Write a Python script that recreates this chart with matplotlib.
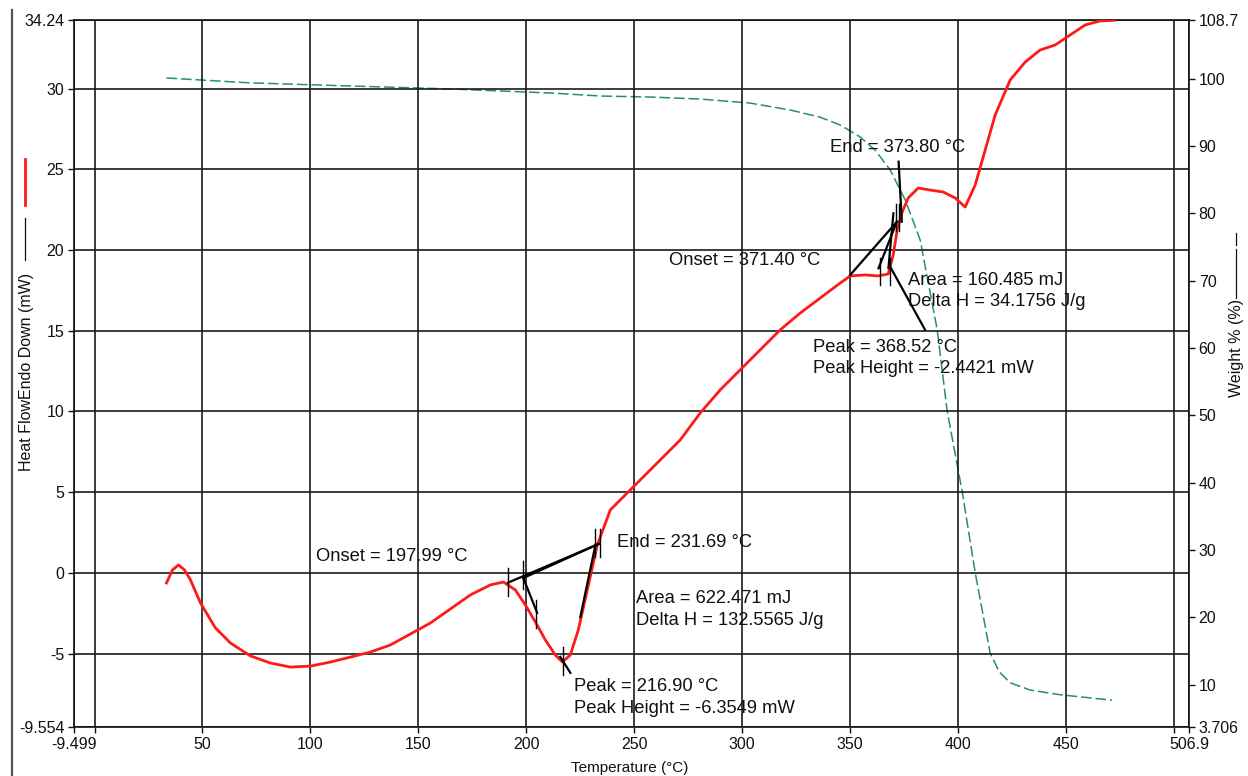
import matplotlib
matplotlib.use('Agg')
import matplotlib.pyplot as plt
from matplotlib.lines import Line2D

plt.rcParams['font.family'] = ['Liberation Sans', 'DejaVu Sans']

# heat flow curve (left axis, mW)
hf_temp = [33.33, 36.11, 38.89, 41.67, 44.44, 49.07, 56.02, 62.96, 72.22, 81.48,
           90.74, 100.0, 109.26, 118.52, 127.78, 137.04, 146.30, 155.56, 164.81, 174.07,
           183.33, 189.35, 194.91, 199.54, 204.17, 208.80, 213.43, 216.67, 220.37, 224.07,
           228.24, 232.87, 238.89, 248.15, 257.41, 271.30, 280.56, 289.81, 299.07, 308.33,
           317.59, 326.85, 336.11, 345.37, 350.0, 356.94, 362.96, 367.59, 369.91, 371.76,
           374.07, 376.85, 381.48, 387.04, 393.06, 398.61, 403.24, 407.87, 412.50, 417.13,
           424.07, 431.02, 437.96, 444.91, 451.85, 458.80, 465.74, 472.22]
hf_value = [-0.63, 0.18, 0.49, 0.18, -0.44, -1.87, -3.42, -4.35, -5.15, -5.59,
            -5.84, -5.78, -5.53, -5.22, -4.91, -4.47, -3.79, -3.11, -2.24, -1.37,
            -0.75, -0.57, -1.06, -1.99, -3.04, -4.16, -5.09, -5.53, -5.09, -3.54,
            -1.06, 1.73, 3.90, 5.14, 6.38, 8.24, 9.91, 11.34, 12.58, 13.82,
            15.06, 16.10, 17.03, 17.96, 18.40, 18.46, 18.40, 18.52, 19.70, 21.25,
            22.36, 23.23, 23.85, 23.72, 23.60, 23.23, 22.67, 24.03, 26.20, 28.37,
            30.54, 31.65, 32.40, 32.71, 33.33, 33.95, 34.20, 34.24]

# weight curve (right axis, %)
wt_temp = [33.3, 72.2, 118.5, 164.8, 211.1, 234.3, 257.4, 280.6, 303.7, 322.2,
           336.1, 345.4, 354.6, 361.6, 368.5, 375.5, 382.4, 390.3, 394.9, 401.9,
           407.9, 414.8, 419.0, 424.1, 433.3, 447.2, 461.1, 471.3]
wt_value = [100.13, 99.4, 98.94, 98.5, 97.9, 97.45, 97.3, 97.0, 96.4, 95.37,
            94.3, 93.14, 91.37, 89.4, 86.46, 82.0, 76.06, 62.7, 50.65, 38.6,
            26.6, 14.7, 11.9, 10.27, 9.2, 8.5, 8.03, 7.7]

# analysis construction lines (x0, y0, x1, y1) in data units
seg_x0 = [191.5, 198.6, 198.6, 232.0, 215.7, 350.0, 363.1, 367.7, 368.5, 372.4]
seg_y0 = [-0.61, -0.32, -0.32, 1.73, -5.21, 18.46, 18.87, 18.89, 18.97, 25.48]
seg_x1 = [233.5, 233.5, 205.0, 225.0, 220.4, 371.6, 371.6, 370.0, 384.7, 373.9]
seg_y1 = [1.79, 1.79, -2.48, -2.73, -6.20, 21.76, 21.76, 22.28, 15.05, 21.76]

# small vertical markers
mark_x = [191.5, 198.5, 204.6, 217.1, 232.0, 234.3, 363.6, 368.2, 371.3, 372.8]
mark_y = [-0.56, -0.13, -2.55, -5.47, 1.85, 1.85, 18.67, 18.67, 22.02, 22.02]
mark_half = 0.85

labels = ['End = 373.80 °C', 'Onset = 371.40 °C', 'Area = 160.485 mJ',
          'Delta H = 34.1756 J/g', 'Peak = 368.52 °C', 'Peak Height = -2.4421 mW',
          'Onset = 197.99 °C', 'End = 231.69 °C', 'Area = 622.471 mJ',
          'Delta H = 132.5565 J/g', 'Peak = 216.90 °C', 'Peak Height = -6.3549 mW']
label_x = [340.7, 266.2, 376.9, 376.9, 332.9, 332.9, 102.8, 242.1, 250.9, 250.9, 222.2, 222.2]
label_y = [26.38, 19.37, 18.14, 16.84, 13.94, 12.64, 1.03, 1.90, -1.57, -2.93, -7.02, -8.38]

x_ticks = [-9.499, 0, 50, 100, 150, 200, 250, 300, 350, 400, 450, 500, 506.9]
x_ticklabels = ['-9.499', '', '50', '100', '150', '200', '250', '300', '350', '400',
                '450', '', '506.9']
y_ticks = [-9.554, -5, 0, 5, 10, 15, 20, 25, 30, 34.24]
y_ticklabels = ['-9.554', '-5', '0', '5', '10', '15', '20', '25', '30', '34.24']
y2_ticks = [3.706, 10, 20, 30, 40, 50, 60, 70, 80, 90, 100, 108.7]
y2_ticklabels = ['3.706', '10', '20', '30', '40', '50', '60', '70', '80', '90', '100', '108.7']

W, H = 1248, 776
fig = plt.figure(figsize=(W / 100, H / 100), dpi=100)
ax = fig.add_axes([74 / W, 1 - 727 / H, (1189 - 74) / W, (727 - 20.3) / H])

ax.set_xlim(-9.499, 506.9)
ax.set_ylim(-9.554, 34.24)
ax.set_xticks(x_ticks)
ax.set_xticklabels(x_ticklabels)
ax.set_yticks(y_ticks)
ax.set_yticklabels(y_ticklabels)
ax.grid(True, color='#1a1a1a', lw=1.2)
ax.set_axisbelow(True)
ax.tick_params(length=4, width=1, labelsize=11.5, colors='#111', pad=3)
for s in ax.spines.values():
    s.set_color('#111')
    s.set_linewidth(1.2)

ax2 = ax.twinx()
ax2.set_ylim(3.706, 108.7)
ax2.set_yticks(y2_ticks)
ax2.set_yticklabels(y2_ticklabels)
ax2.tick_params(length=4, width=1, labelsize=11.5, colors='#111', pad=3)
for s in ax2.spines.values():
    s.set_visible(False)

ax2.plot(wt_temp, wt_value, color='#23955a', lw=1.1, dashes=(7, 2.5))
ax.plot(hf_temp, hf_value, color='#ff1a1a', lw=2.0, zorder=3)

ax.set_zorder(ax2.get_zorder() + 1)
ax.patch.set_visible(False)

for x0, y0, x1, y1 in zip(seg_x0, seg_y0, seg_x1, seg_y1):
    ax.plot([x0, x1], [y0, y1], color='black', lw=1.6, zorder=4)
for mx, my in zip(mark_x, mark_y):
    ax.plot([mx, mx], [my - mark_half, my + mark_half], color='black', lw=1.0, zorder=4)

for t, lx, ly in zip(labels, label_x, label_y):
    ax.text(lx, ly, t, fontsize=13.2, color='#111', ha='left', va='center', zorder=5)

fig.text(630 / W, 1 - 768 / H, 'Temperature (°C)', fontsize=11, color='#111',
         ha='center', va='center')

# left axis caption with its line swatches
fig.text(27 / W, 1 - 372 / H, 'Heat FlowEndo Down (mW)', fontsize=11.5, color='#111',
         rotation=90, ha='center', va='center')
fig.add_artist(Line2D([25 / W, 25 / W], [1 - 159 / H, 1 - 205 / H], color='#ff1a1a', lw=2))
fig.add_artist(Line2D([25 / W, 25 / W], [1 - 218 / H, 1 - 260 / H], color='#111', lw=0.9))

# right axis caption
fig.text(1237 / W, 1 - 348 / H, 'Weight % (%)', fontsize=11.5, color='#111',
         rotation=90, ha='center', va='center')
fig.add_artist(Line2D([1236 / W, 1236 / W], [1 - 249 / H, 1 - 298 / H], color='#111', lw=0.9))
fig.add_artist(Line2D([1236 / W, 1236 / W], [1 - 233 / H, 1 - 245 / H], color='#111', lw=0.9))

# window frame line on the left
fig.add_artist(Line2D([12 / W, 12 / W], [0, 1 - 10 / H], color='#555', lw=1.6))

fig.savefig('out.png', dpi=100)
